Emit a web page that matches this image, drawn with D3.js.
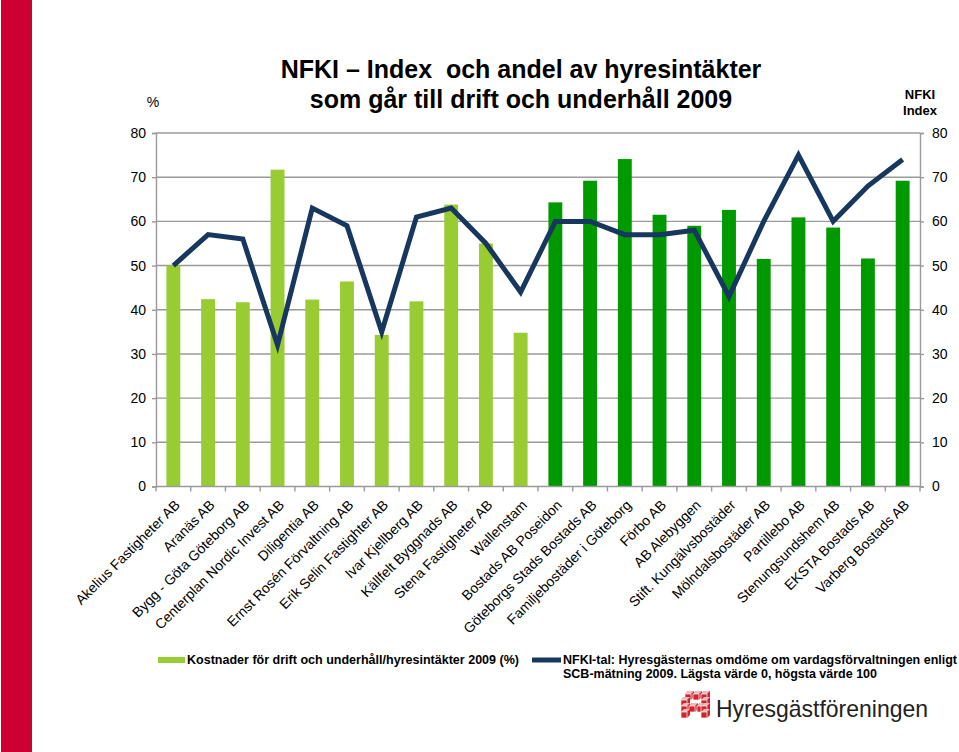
<!DOCTYPE html>
<html><head><meta charset="utf-8">
<script src="https://cdn.jsdelivr.net/npm/d3@7/dist/d3.min.js"></script>
<style>
html,body{margin:0;padding:0;background:#fff;}
svg{display:block;font-family:"Liberation Sans",Arial,Helvetica,sans-serif;}
</style></head>
<body>
<svg id="c" width="959" height="752"></svg>
<script>
const companies = ["Akelius Fastigheter AB","Aranäs AB","Bygg - Göta Göteborg AB","Centerplan Nordic Invest AB","Diligentia AB","Ernst Rosén Förvaltning AB","Erik Selin Fastighter AB","Ivar Kjellberg AB","Källfelt Byggnads AB","Stena Fastigheter AB","Wallenstam","Bostads AB Poseidon","Göteborgs Stads Bostads AB","Familjebostäder i Göteborg","Förbo AB","AB Alebyggen","Stift. Kungälvsbostäder","Mölndalsbostäder AB","Partillebo AB","Stenungsundshem AB","EKSTA Bostads AB","Varberg Bostads AB"];
const companyType = ["private","private","private","private","private","private","private","private","private","private","private","public","public","public","public","public","public","public","public","public","public","public"];
const costShare = [50,42.4,41.7,71.7,42.3,46.4,34.3,41.9,63.8,55,34.8,64.3,69.2,74.1,61.5,59,62.6,51.5,60.9,58.6,51.6,69.2];
const nfkiIndex = [50,57,56,32,63,59,35,61,63,55,44,60,60,57,57,58,43,60,75,60,68,74];
const yTicks = [0,10,20,30,40,50,60,70,80];
const titleLines = ["NFKI – Index  och andel av hyresintäkter","som går till drift och underhåll 2009"];
const legendBar = "Kostnader för drift och underhåll/hyresintäkter 2009 (%)";
const legendLine = ["NFKI-tal: Hyresgästernas omdöme om vardagsförvaltningen enligt","SCB-mätning 2009. Lägsta värde 0, högsta värde 100"];

const svg = d3.select("#c");
const L = 156, R = 920, T = 133, B = 486.5;
const gridCol = "#9a9a9a";

// red side stripe
svg.append("rect").attr("x",1).attr("y",0).attr("width",31).attr("height",752).attr("fill","#cc0033");

const x = d3.scaleBand().domain(companies).range([L,R]).paddingInner(0.6).paddingOuter(0.3);
const yL = d3.scaleLinear().domain([0,80]).range([B,T]);
const yR = d3.scaleLinear().domain([0,80]).range([B,T]);

// gridlines
svg.append("g").selectAll("line").data(yTicks.filter(d=>d>0)).join("line")
  .attr("x1",L).attr("x2",R).attr("y1",d=>yL(d)).attr("y2",d=>yL(d))
  .attr("stroke",gridCol).attr("stroke-width",1.4);

// bars
svg.append("g").selectAll("rect").data(companies).join("rect")
  .attr("x",d=>x(d)).attr("width",x.bandwidth())
  .attr("y",(d,i)=>yL(costShare[i])).attr("height",(d,i)=>B-yL(costShare[i]))
  .attr("fill",(d,i)=>companyType[i]==="private"?"#99cc33":"#009900");

// axes
const axL = svg.append("g").attr("transform",`translate(${L},0)`)
  .call(d3.axisLeft(yL).tickValues(yTicks).tickSize(4).tickPadding(6));
const axR = svg.append("g").attr("transform",`translate(${R},0)`)
  .call(d3.axisRight(yR).tickValues(yTicks).tickSize(4).tickPadding(8));
[axL,axR].forEach(a=>{
  a.select(".domain").attr("stroke",gridCol).attr("stroke-width",1.4);
  a.selectAll(".tick line").attr("stroke",gridCol).attr("stroke-width",1.4);
  a.selectAll(".tick text").attr("font-size",14).attr("fill","#000").attr("font-family","Liberation Sans, Arial, sans-serif");
});

// x axis with boundary ticks
const xa = svg.append("g");
xa.append("line").attr("x1",L).attr("x2",R).attr("y1",B).attr("y2",B).attr("stroke",gridCol).attr("stroke-width",1.4);
const bounds = d3.range(companies.length+1).map(i=> i<companies.length ? x(companies[i]) - x.step()*x.paddingInner()/2 : R);
xa.selectAll("line.t").data(bounds).join("line").attr("class","t")
  .attr("x1",d=>d).attr("x2",d=>d).attr("y1",B).attr("y2",B+5)
  .attr("stroke",gridCol).attr("stroke-width",1.4);
xa.selectAll("text").data(companies).join("text")
  .attr("transform",d=>`translate(${x(d)+x.bandwidth()/2+4},${B+16}) rotate(-45)`)
  .attr("text-anchor","end").attr("dy","0.35em").attr("font-size",14).attr("fill","#000")
  .text(d=>d);

// line
const line = d3.line().x((d,i)=>x(companies[i])+x.bandwidth()/2).y(d=>yR(d));
svg.append("path").datum(nfkiIndex).attr("d",line)
  .attr("fill","none").attr("stroke","#17375e").attr("stroke-width",5).attr("stroke-linejoin","miter");

// title
svg.append("g").selectAll("text").data(titleLines).join("text")
  .attr("x",521).attr("y",(d,i)=>78+i*30).attr("text-anchor","middle")
  .style("white-space","pre").attr("xml:space","preserve")
  .attr("font-size",25).attr("font-weight","bold").attr("fill","#000").text(d=>d);

// axis captions
svg.append("text").attr("x",153).attr("y",107).attr("text-anchor","middle").attr("font-size",14).text("%");
svg.append("g").selectAll("text").data(["NFKI","Index"]).join("text")
  .attr("x",920).attr("y",(d,i)=>99+i*16).attr("text-anchor","middle").attr("font-size",13).attr("font-weight","bold").text(d=>d);

// legend
svg.append("rect").attr("x",158).attr("y",657).attr("width",27).attr("height",6).attr("fill","#99cc33");
svg.append("text").attr("x",187).attr("y",663.5).attr("font-size",12).attr("font-weight","bold")
  .attr("textLength",332).attr("lengthAdjust","spacingAndGlyphs").text(legendBar);
svg.append("line").attr("x1",532).attr("x2",561).attr("y1",660).attr("y2",660).attr("stroke","#17375e").attr("stroke-width",5);
svg.append("text").attr("x",563).attr("y",663.5).attr("font-size",12).attr("font-weight","bold")
  .attr("textLength",394).attr("lengthAdjust","spacingAndGlyphs").text(legendLine[0]);
svg.append("text").attr("x",563).attr("y",677.5).attr("font-size",12).attr("font-weight","bold")
  .attr("textLength",314).attr("lengthAdjust","spacingAndGlyphs").text(legendLine[1]);

// logo (stylised H of cubes)
const lg = svg.append("g").attr("transform","translate(679,691)");
const red = "#d2232a";
const cube = (a,b)=>{
  lg.append("path").attr("d",`M${a},${b+3} l3,-3 h6 v6 l-3,3 h-6 z`).attr("fill",red);
  lg.append("path").attr("d",`M${a},${b+3} l3,-3 h6 l-3,3 z`).attr("fill","#f2b8bb");
  lg.append("path").attr("d",`M${a},${b+3} h6 v6 h-6 z`).attr("fill","none").attr("stroke","#fff").attr("stroke-width",0.7);
};
[[6,0],[14,0],[22,0],[2,6],[22,6],[2,12],[10,12],[18,12],[22,12],[2,18],[22,18]].forEach(([a,b])=>cube(a,b));
svg.append("text").attr("x",716).attr("y",717).attr("font-size",24).attr("fill","#222")
  .attr("textLength",212).attr("lengthAdjust","spacingAndGlyphs").text("Hyresgästföreningen");
</script>
</body></html>
